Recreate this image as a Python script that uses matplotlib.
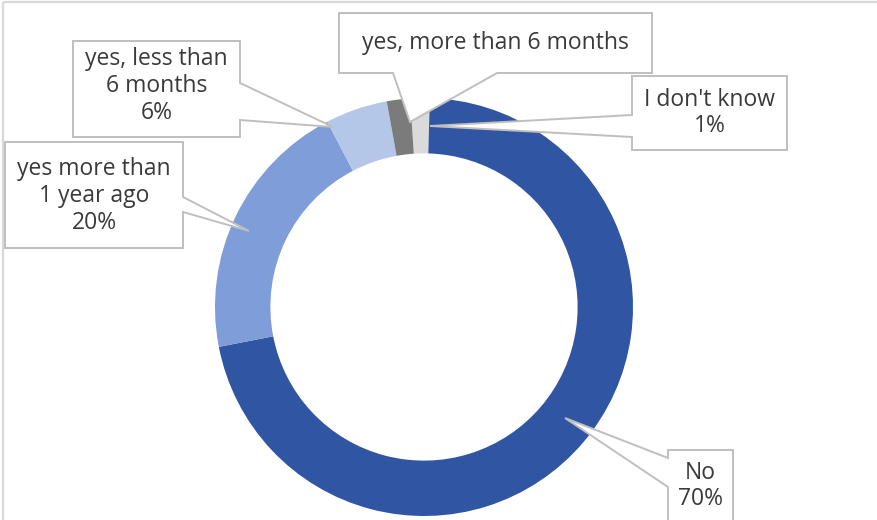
import matplotlib.pyplot as plt
from matplotlib.patches import Polygon, Rectangle

# -------------------------------------------------
# Data (order: clockwise from top of ring)
# -------------------------------------------------

categories = [
    "I don't know",
    "No",
    "yes more than 1 year ago",
    "yes, less than 6 months",
    "yes, more than 6 months",
]
# wedge shares as they appear in the ring
shares = [1.5, 71.5, 20.4, 4.8, 1.8]
# percentages printed in the callouts
pct_text = ["1%", "70%", "20%", "6%", ""]
# callout text as printed (with its line breaks)
callout_text = [
    "I don't know",
    "No",
    "yes more than\n1 year ago",
    "yes, less than\n6 months",
    "yes, more than 6 months",
]

colors = ["#DADADA", "#2F55A3", "#7E9DD9", "#B4C7E9", "#7B7B7B"]

# -------------------------------------------------
# Callout layout, in picture pixels (x0, y0, x1, y1), pointer side,
# pointer base span on that side, pointer tip, text centre y
# -------------------------------------------------

layout = {
    "I don't know": dict(box=(632, 76, 787, 150), side="left", base=(115, 137), tip=(430, 126), ty=113),
    "No": dict(box=(668, 450, 733, 540), side="left", base=(458, 487), tip=(565, 418), ty=486),
    "yes more than 1 year ago": dict(box=(5, 142, 183, 248), side="right", base=(197, 212), tip=(249, 231), ty=196),
    "yes, less than 6 months": dict(box=(73, 41, 240, 137), side="right", base=(83, 120), tip=(333, 127), ty=86),
    "yes, more than 6 months": dict(box=(339, 13, 652, 73), side="bottom", base=(393, 497), tip=(410, 122), ty=43),
}

W, H = 877, 520
fig = plt.figure(figsize=(W / 100, H / 100), dpi=100)

# -------------------------------------------------
# Donut
# -------------------------------------------------

cx, cy, r_out = 424, 307, 209
ax = fig.add_axes([(cx - r_out) / W, (H - cy - r_out) / H, 2 * r_out / W, 2 * r_out / H])
ax.pie(
    shares,
    colors=colors,
    startangle=90 + 3.8,
    counterclock=False,
    radius=1.0,
    wedgeprops=dict(width=0.265, edgecolor="none"),
)
ax.set_xlim(-1, 1)
ax.set_ylim(-1, 1)
ax.set_aspect("auto")

# -------------------------------------------------
# Callouts on an overlay in pixel coordinates
# -------------------------------------------------

ov = fig.add_axes([0, 0, 1, 1], zorder=5)
ov.set_xlim(0, W)
ov.set_ylim(H, 0)
ov.axis("off")
ov.patch.set_alpha(0)

# light chart border (top and left visible)
ov.add_patch(Rectangle((3, 2), 1000, 1000, fill=False, edgecolor="#D9D9D9", linewidth=1.6))


def callout_vertices(box, side, base, tip):
    x0, y0, x1, y1 = box
    if side == "left":
        return [(x0, y0), (x1, y0), (x1, y1), (x0, y1), (x0, base[1]), tip, (x0, base[0])]
    if side == "right":
        return [(x0, y0), (x1, y0), (x1, base[0]), tip, (x1, base[1]), (x1, y1), (x0, y1)]
    # bottom
    return [(x0, y0), (x1, y0), (x1, y1), (base[1], y1), tip, (base[0], y1), (x0, y1)]


for name, label, pct in zip(categories, callout_text, pct_text):
    lay = layout[name]
    verts = callout_vertices(lay["box"], lay["side"], lay["base"], lay["tip"])
    ov.add_patch(Polygon(verts, closed=True, facecolor="white", edgecolor="#BFBFBF",
                         linewidth=1.4, joinstyle="miter"))
    text = label + ("\n" + pct if pct else "")
    x0, _, x1, _ = lay["box"]
    ov.text((x0 + x1) / 2, lay["ty"], text, ha="center", va="center",
            fontsize=16.5, family="Open Sans", color="#3A3A3A", linespacing=1.15)

fig.savefig("out.png", dpi=100, facecolor="white")
